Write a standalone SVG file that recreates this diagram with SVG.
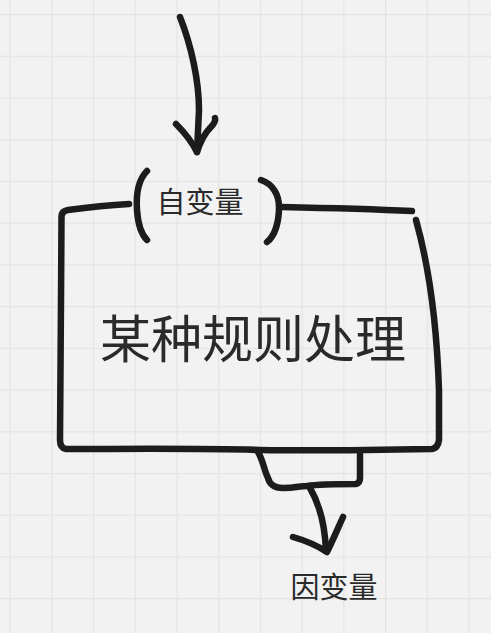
<svg xmlns="http://www.w3.org/2000/svg" width="491" height="633" viewBox="0 0 491 633">
<defs>
<pattern id="grid" x="9.5" y="14" width="41.72" height="41.72" patternUnits="userSpaceOnUse">
<path d="M0.5 0V41.72M0 0.5H41.72" fill="none" stroke="#e4e4e4" stroke-width="1.5"/>
</pattern>
<style>
.s{fill:none;stroke:#1c1c1c;stroke-width:6.5;stroke-linecap:round;stroke-linejoin:round}
.t{font-family:"Noto Sans CJK SC","Noto Sans",sans-serif;fill:#2a2a2a}
</style>
</defs>
<rect width="491" height="633" fill="#f2f2f2"/>
<rect width="491" height="633" fill="url(#grid)"/>
<g id="connectors">
<path class="s" d="M180 17 C191 45 199 80 199 110 L197 152"/>
<path class="s" d="M176 124 C185 133 192 142 197 152 C201 140 205 133 210 128 C214 124 216 121 215 118"/>
<path class="s" d="M310 488 C320 505 325 525 326 551"/>
<path class="s" d="M293 537 C307 541 318 546 327 552 C333 540 338 528 343 517"/>
</g>
<g id="box">
<path class="s" d="M129 204 C110 205 90 207 68 210 Q61 211 61.5 218 L61 300 C61 360 60 400 60 440 Q60 448 66 449 C120 449 200 448 260 450 C320 451 380 450 432 449 Q438 448 439 440 L439 390 C437 330 430 270 416 220"/>
<path class="s" d="M281 207 C330 208 370 209 412 211"/>
<text class="t" x="253" y="358" font-size="51" text-anchor="middle" fill="#1e1e1e">某种规则处理</text>
</g>
<g id="input">
<path class="s" d="M147 171 C138 180 136 195 137 210 C138 225 141 234 147 240"/>
<path class="s" d="M261 180 C273 184 279 195 279 207 C279 222 275 236 267 242"/>
<text class="t" x="200" y="213" font-size="29" text-anchor="middle">自变量</text>
</g>
<g id="tab">
<path class="s" d="M258 452 C263 460 264 470 268 478 C270 486 276 488 283 488 C295 488 300 486 307 486 C320 484 340 484 356 484 Q360 483 360 478 L360 454"/>
</g>
<g id="output">
<text class="t" x="334" y="598" font-size="29" text-anchor="middle">因变量</text>
</g>
</svg>
